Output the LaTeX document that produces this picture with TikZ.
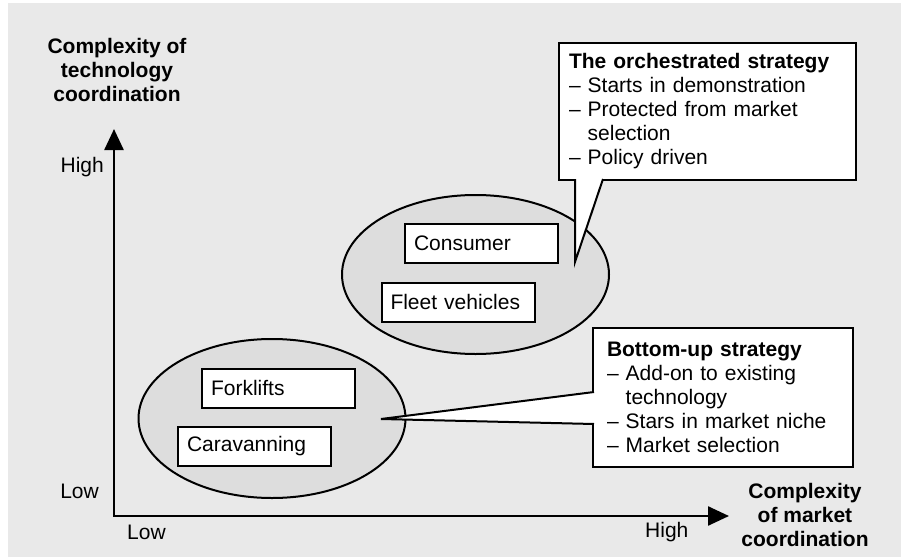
\documentclass[tikz,border=0pt]{standalone}
\usepackage{fontspec}
\setmainfont{Liberation Sans}
\usetikzlibrary{arrows.meta,shapes.geometric}

\definecolor{panel}{HTML}{E9E9E9}
\definecolor{cloud}{HTML}{DDDDDD}

\begin{document}
\begin{tikzpicture}[
  x=1pt,y=-1pt,
  font=\fontsize{21}{24}\selectfont,
  grp/.style={ellipse,draw,line width=2pt,fill=cloud,minimum width=267pt,minimum height=159pt,inner sep=0pt},
  cat/.style={rectangle,draw,line width=2pt,fill=white,minimum width=153pt,minimum height=39pt,text width=135pt,inner xsep=9pt,align=left},
  note/.style={rectangle,draw,line width=2pt,fill=white,outer sep=0pt,align=left},
  ax/.style={line width=2.5pt,{Triangle[length=21pt,width=19pt]}-{Triangle[length=21pt,width=19pt]}},
  ttl/.style={align=center,font=\fontsize{21}{24}\selectfont\bfseries},
  lvl/.style={inner sep=0pt}
]
\useasboundingbox (0,0) rectangle (906,560);
\fill[panel] (8,3) rectangle (901,557);

% axes
\coordinate (o) at (114,516);
\coordinate (ytop) at (114,129);
\coordinate (xend) at (729,516);
\draw[ax] (ytop) -- (o) -- (xend);
\node[ttl] (ytitle) at (117,69.5) {Complexity of\\technology\\coordination};
\node[ttl] (xtitle) at (805,515) {Complexity\\of market\\coordination};
\node[lvl,anchor=east] (yhigh) at (104,167) {High};
\node[lvl,anchor=east] (ylow) at (99,491) {Low};
\node[lvl,anchor=west] (xlow) at (127,532) {Low};
\node[lvl,anchor=west] (xhigh) at (645,532) {High};

% clusters
\node[grp] (hi) at (475.5,274.5) {};
\node[grp] (lo) at (272,418.5) {};
\node[cat] (cons) at (481.5,243.5) {Consumer};
\node[cat] (fleet) at (458,302) {Fleet vehicles};
\node[cat] (fork) at (278.5,388) {Forklifts};
\node[cat] (carav) at (254.5,446.5) {Caravanning};

% callouts
\node[note,text width=277pt,inner xsep=10pt,minimum height=137pt] (orch) at (707.5,111.5)
  {\textbf{The orchestrated strategy}\\-- Starts in demonstration\\-- Protected from market\\\hphantom{--~}selection\\-- Policy driven};
\coordinate (orchtip) at (575,262);
\fill[white] ([xshift=16pt,yshift=1.5pt]orch.south west) -- (orchtip) -- ([xshift=44pt,yshift=1.5pt]orch.south west) -- cycle;
\draw[line width=2pt] ([xshift=16pt,yshift=1pt]orch.south west) -- (orchtip) -- ([xshift=44pt,yshift=1pt]orch.south west);

\node[note,text width=232pt,inner xsep=14pt,minimum height=139pt] (bup) at (723,397.5)
  {\textbf{Bottom-up strategy}\\-- Add-on to existing\\\hphantom{--~}technology\\-- Stars in market niche\\-- Market selection};
\coordinate (buptip) at (381,419);
\fill[white] ([xshift=1.5pt,yshift=5.5pt]bup.west) -- (buptip) -- ([xshift=1.5pt,yshift=-26.5pt]bup.west) -- cycle;
\draw[line width=2pt] ([xshift=1pt,yshift=5.5pt]bup.west) -- (buptip) -- ([xshift=1pt,yshift=-26.5pt]bup.west);
\end{tikzpicture}
\end{document}
